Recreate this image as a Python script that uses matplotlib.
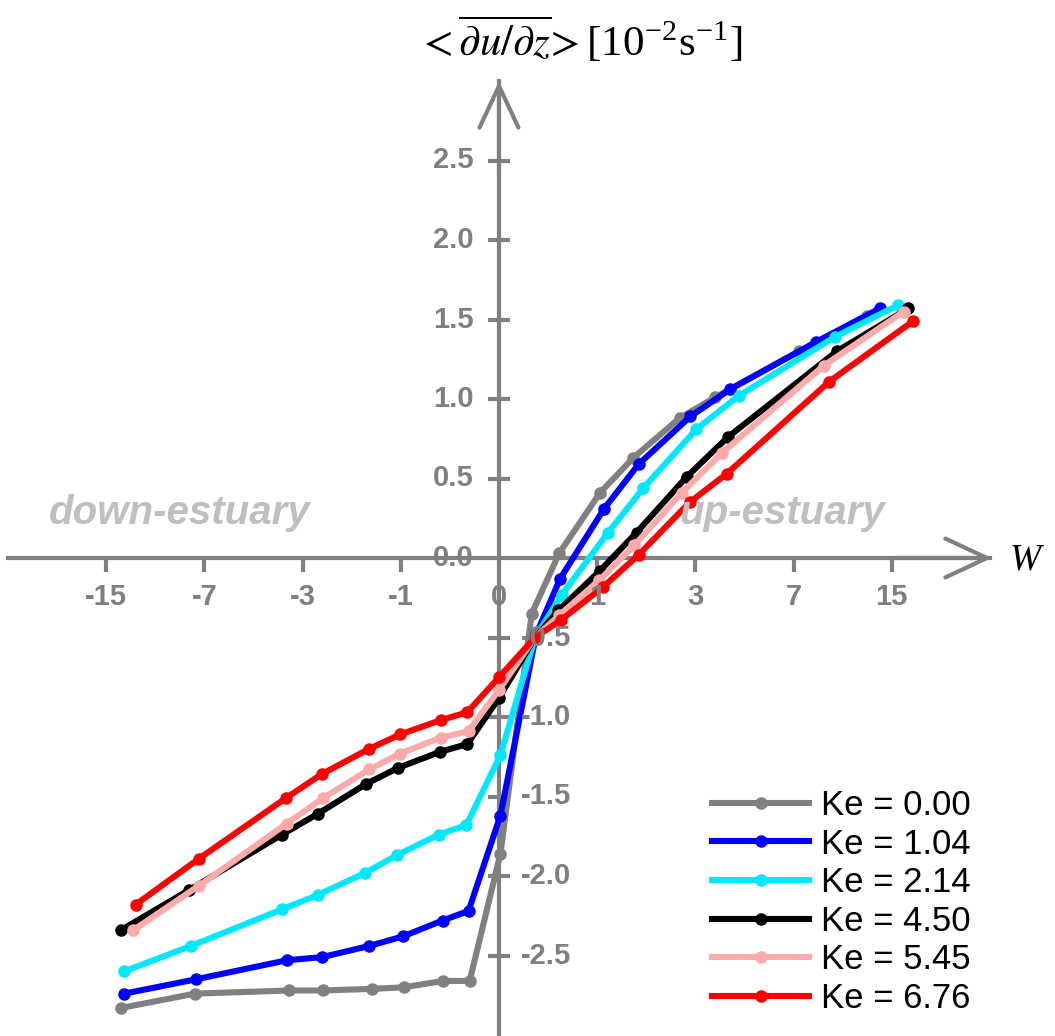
import matplotlib
matplotlib.use('Agg')
import matplotlib.pyplot as plt
import numpy as np

plt.rcParams['mathtext.fontset'] = 'stix'

# tick values on the W axis and on the gradient axis
w_ticks = [-15, -7, -3, -1, 0, 1, 3, 7, 15]
y_ticks = [-2.5, -2.0, -1.5, -1.0, -0.5, 0.0, 0.5, 1.0, 1.5, 2.0, 2.5]

# series (W, <du/dz> in 1e-2 s^-1)
w_ke000 = [-13.4, -7.57, -3.41, -2.46, -1.45, -0.96, -0.48, -0.23, 0.01, 0.26, 0.53, 1.04, 1.58, 2.58, 3.59, 7.3, 12.4]
v_ke000 = [-2.83, -2.74, -2.72, -2.72, -2.71, -2.70, -2.66, -2.66, -1.86, -0.35, 0.03, 0.41, 0.63, 0.88, 1.01, 1.30, 1.52]

w_ke104 = [-13.1, -7.5, -3.47, -2.48, -1.5, -0.97, -0.49, -0.24, 0.01, 0.30, 0.54, 1.10, 1.68, 2.86, 4.1, 8.4, 13.7]
v_ke104 = [-2.74, -2.65, -2.53, -2.51, -2.44, -2.38, -2.28, -2.22, -1.62, -0.48, -0.13, 0.31, 0.59, 0.89, 1.06, 1.36, 1.57]

w_ke214 = [-13.1, -7.8, -3.63, -2.6, -1.57, -1.06, -0.53, -0.26, 0.01, 0.29, 0.56, 1.16, 1.77, 3.03, 4.43, 9.7, 15.7]
v_ke214 = [-2.60, -2.44, -2.21, -2.12, -1.98, -1.87, -1.74, -1.68, -1.24, -0.50, -0.23, 0.16, 0.44, 0.81, 1.02, 1.39, 1.59]

w_ke450 = [-13.4, -7.94, -3.63, -2.6, -1.55, -1.04, -0.52, -0.25, 0.0, 0.29, 0.52, 1.04, 1.64, 2.76, 4.03, 9.85, 17.0]
v_ke450 = [-2.34, -2.09, -1.74, -1.61, -1.42, -1.32, -1.22, -1.17, -0.88, -0.50, -0.33, -0.08, 0.16, 0.51, 0.76, 1.30, 1.57]

w_ke545 = [-12.2, -7.3, -3.47, -2.46, -1.5, -1.01, -0.51, -0.24, 0.0, 0.29, 0.53, 1.03, 1.60, 2.63, 3.82, 8.9, 16.4]
v_ke545 = [-2.34, -2.06, -1.67, -1.51, -1.33, -1.23, -1.13, -1.09, -0.83, -0.50, -0.36, -0.14, 0.08, 0.41, 0.66, 1.21, 1.55]

w_ke676 = [-12.0, -7.3, -3.5, -2.5, -1.5, -1.01, -0.51, -0.25, 0.0, 0.29, 0.55, 1.09, 1.68, 2.84, 3.99, 9.3, 17.6]
v_ke676 = [-2.18, -1.89, -1.51, -1.36, -1.20, -1.11, -1.02, -0.97, -0.75, -0.50, -0.39, -0.18, 0.02, 0.35, 0.53, 1.11, 1.49]

series = [
    (w_ke000, v_ke000, 'Ke = 0.00', '#808080'),
    (w_ke104, v_ke104, 'Ke = 1.04', '#0000ff'),
    (w_ke214, v_ke214, 'Ke = 2.14', '#00e8ff'),
    (w_ke450, v_ke450, 'Ke = 4.50', '#000000'),
    (w_ke545, v_ke545, 'Ke = 5.45', '#ffaaaa'),
    (w_ke676, v_ke676, 'Ke = 6.76', '#ff0000'),
]

axis_col = '#808080'


def fwd(w):
    w = np.asarray(w, dtype=float)
    return np.sign(w) * np.log2(np.abs(w) + 1)


def inv(u):
    u = np.asarray(u, dtype=float)
    return np.sign(u) * (2 ** np.abs(u) - 1)


fig = plt.figure(figsize=(10.55, 10.36), dpi=100)
ax = fig.add_axes([8 / 1055, 1 / 1036, 982 / 1055, 954 / 1036])
ax.set_xscale('function', functions=(fwd, inv))
ax.set_xlim(-31, 31)
ax.set_ylim(-3, 3)

for w, v, lab, col in series:
    ax.plot(w, v, color=col, lw=4.4, marker='o', ms=8, label=lab,
            solid_joinstyle='round', zorder=3)

# axes through the origin
for s in ['top', 'right']:
    ax.spines[s].set_visible(False)
for s in ['left', 'bottom']:
    ax.spines[s].set_position(('data', 0))
    ax.spines[s].set_color(axis_col)
    ax.spines[s].set_linewidth(3)
    ax.spines[s].set_zorder(2)

ax.set_xticks([t for t in w_ticks if t != 0])
ax.set_yticks([t for t in y_ticks if t != 0])
ax.minorticks_off()
ax.xaxis.set_minor_locator(matplotlib.ticker.NullLocator())
ax.tick_params(axis='x', direction='out', length=10, width=3, color=axis_col,
               labelbottom=False)
ax.tick_params(axis='y', direction='inout', length=16, width=3, color=axis_col,
               labelleft=False)

# arrow heads
arr = dict(arrowstyle='->, head_length=1.5, head_width=0.7', color=axis_col,
           lw=3, shrinkA=0, shrinkB=0, mutation_scale=20)
ax.annotate('', xy=(1.002, 0), xytext=(0.9, 0),
            xycoords=('axes fraction', 'data'), arrowprops=arr)
ax.annotate('', xy=(0, 1.0), xytext=(0, 0.9),
            xycoords=('data', 'axes fraction'), arrowprops=arr)

tick_font = dict(color='#7f7f7f', fontsize=21, fontweight='bold',
                 family='Liberation Sans')
for t in w_ticks:
    ax.annotate(str(t), (t, 0), xytext=(0, -28), textcoords='offset points',
                ha='center', va='center', **tick_font)
for t in y_ticks:
    if t >= 0:
        ax.annotate('%.1f' % t, (0, t), xytext=(-18, 0), textcoords='offset points',
                    ha='right', va='center', **tick_font)
    else:
        ax.annotate('%.1f' % t, (0, t), xytext=(16, 0), textcoords='offset points',
                    ha='left', va='center', **tick_font)

reg_font = dict(color='#bfbfbf', fontsize=29, fontweight='bold', style='italic',
                family='Liberation Sans', ha='center', va='center')
fig.text(180 / 1055, 1 - 513 / 1036, 'down-estuary', **reg_font)
fig.text(782 / 1055, 1 - 513 / 1036, 'up-estuary', **reg_font)

fig.text(580 / 1055, 1 - 40 / 1036,
         r'$<\overline{\partial u/\partial z}\!>$[10$^{\mathregular{-2}}$s$^{\mathregular{-1}}$]',
         ha='center', va='center', fontsize=31, family='Liberation Serif')
fig.text(1025 / 1055, 1 - 560 / 1036, 'W', ha='center', va='center',
         fontsize=27, style='italic', family='Liberation Serif')

ax.legend(loc='upper left', bbox_to_anchor=(712 / 1055, 1 - 789 / 1036),
          bbox_transform=fig.transFigure, frameon=False, borderpad=0,
          borderaxespad=0, labelspacing=0.16, handlelength=2.8,
          handletextpad=0.35, prop={'family': 'Liberation Sans', 'size': 25})

fig.savefig('out.png', dpi=100)
